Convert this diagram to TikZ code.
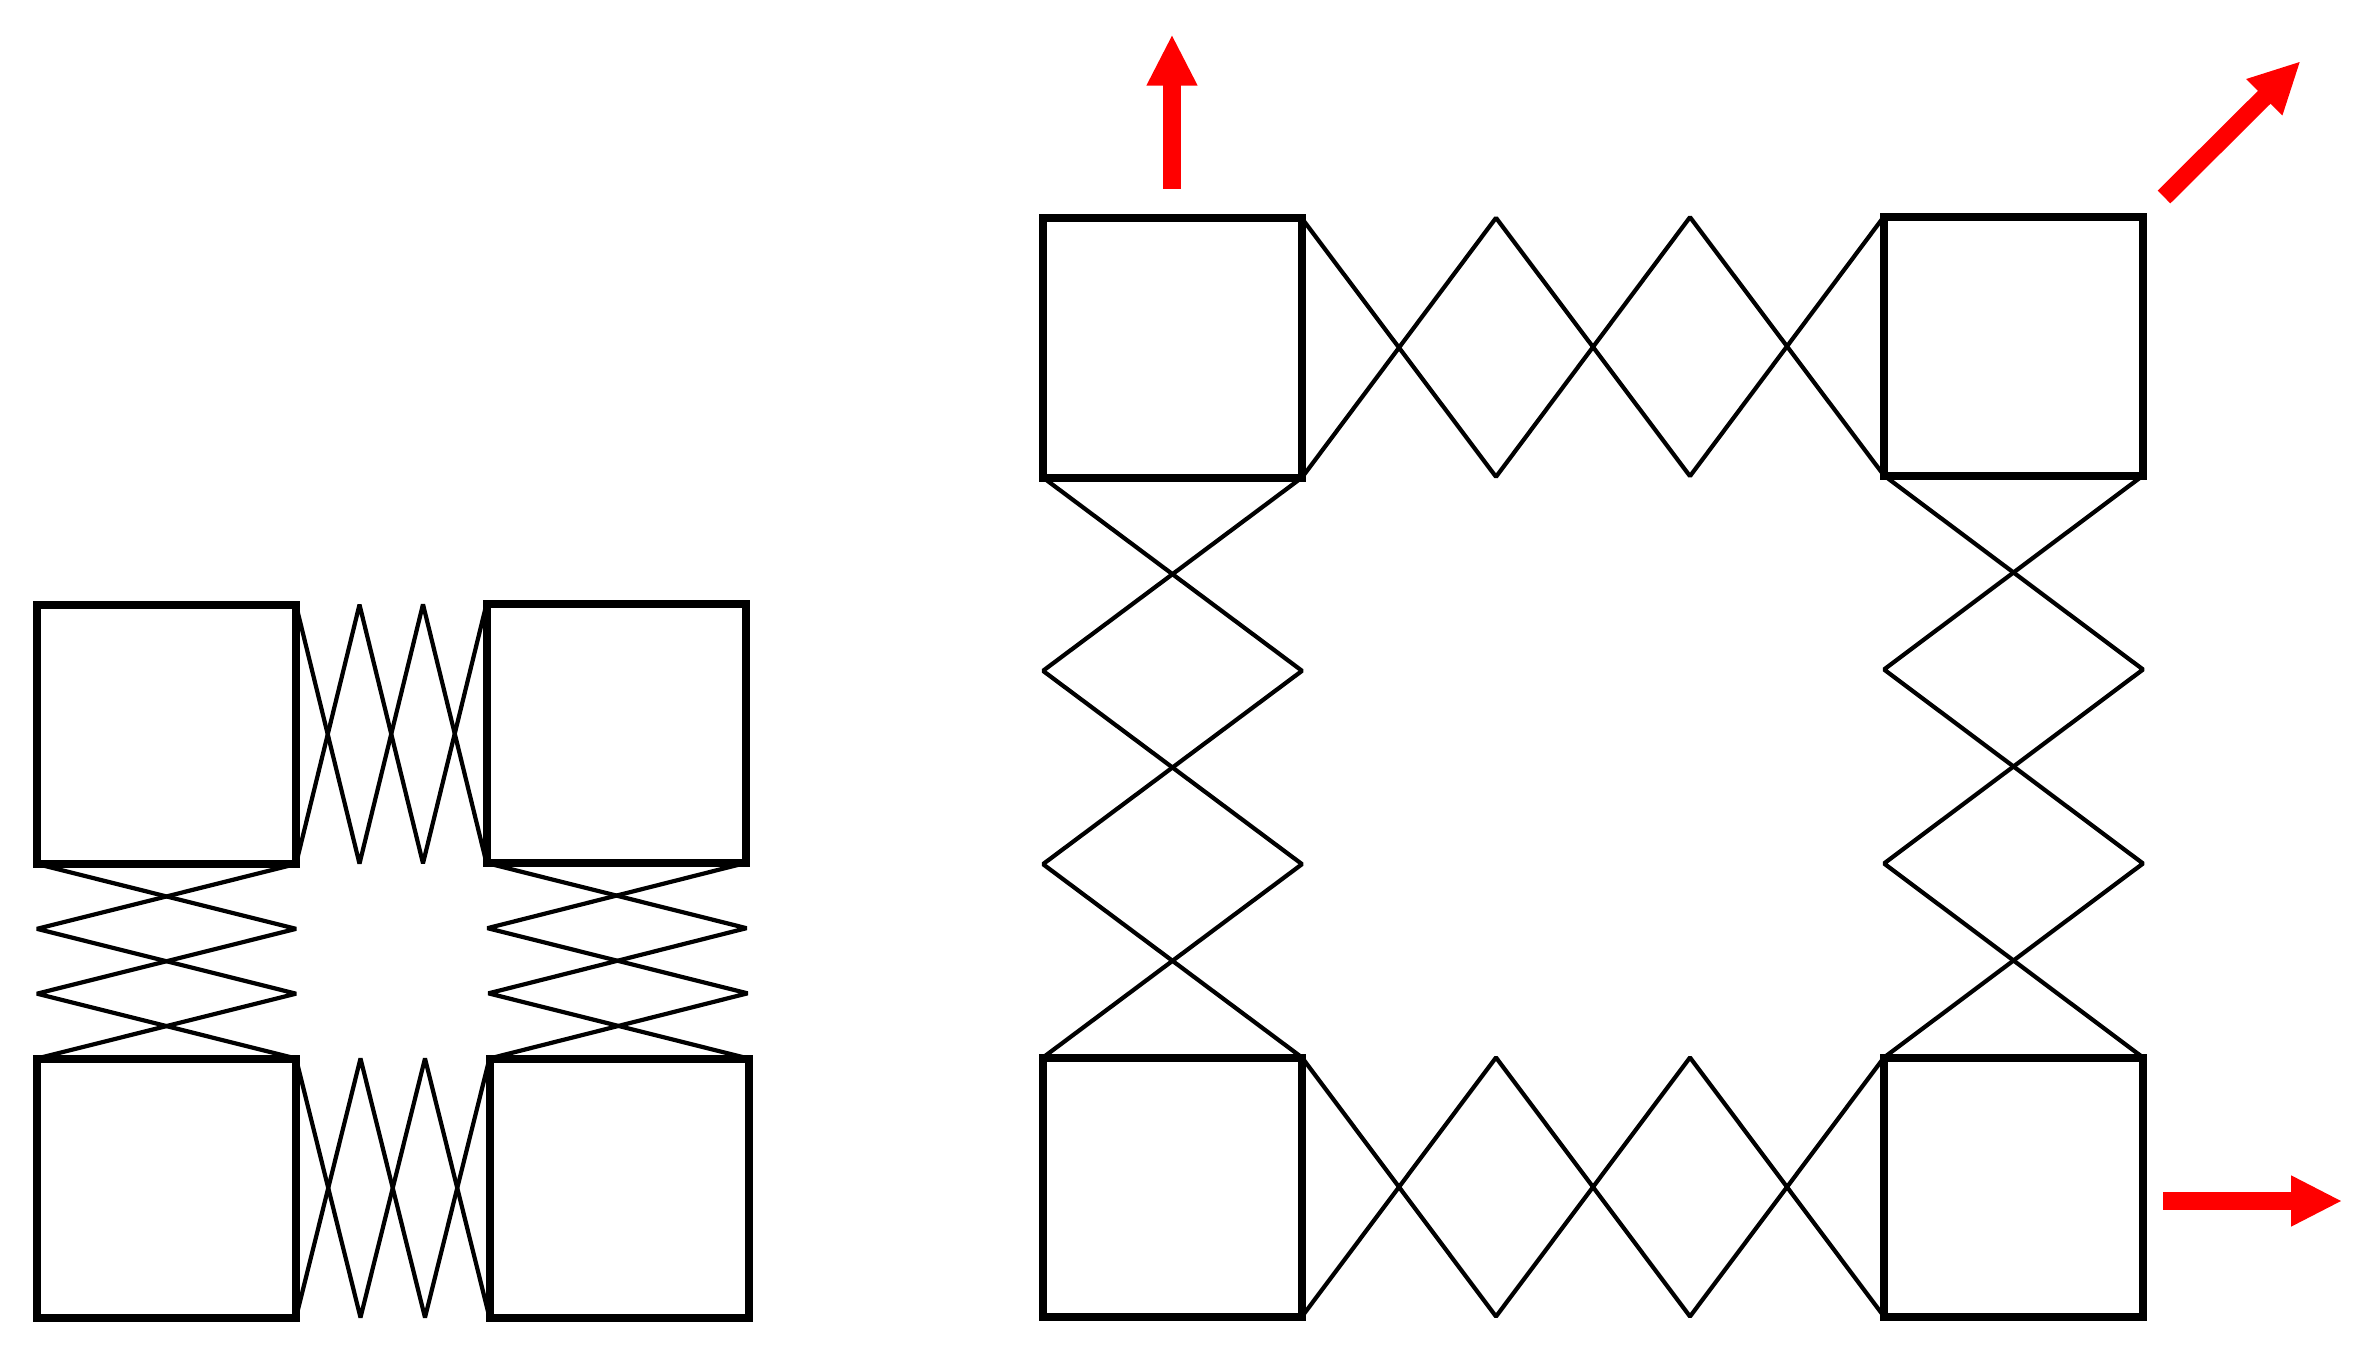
\documentclass[tikz,border=0pt]{standalone}
\usetikzlibrary{arrows.meta,calc}
\tikzset{
  block/.style={draw,line width=0.08cm,minimum size=2.59cm,inner sep=0pt,outer sep=0pt},
  spring/.style={line width=0.042cm,line join=bevel},
  force/.style={red,line width=0.18cm,-{Triangle[length=0.5cm,width=0.51cm,line width=0.5pt]}}
}
\begin{document}
\begin{tikzpicture}
\useasboundingbox (0,0) rectangle (23.57,13.64);
\node[block] (ltl) at (1.665,6.295) {};
\node[block] (ltr) at (6.16,6.305) {};
\node[block] (lbl) at (1.665,1.76) {};
\node[block] (lbr) at (6.19,1.76) {};
\node[block] (rtl) at (11.725,10.16) {};
\node[block] (rtr) at (20.135,10.18) {};
\node[block] (rbl) at (11.725,1.77) {};
\node[block] (rbr) at (20.135,1.77) {};
\foreach \first/\second in {ltl/ltr,lbl/lbr,rtl/rtr,rbl/rbr} {
  \draw[spring] (\first.north east) -- ($(\first.south east)!1/3!(\second.south west)$) -- ($(\first.north east)!2/3!(\second.north west)$) -- (\second.south west);
  \draw[spring] (\first.south east) -- ($(\first.north east)!1/3!(\second.north west)$) -- ($(\first.south east)!2/3!(\second.south west)$) -- (\second.north west);
}
\foreach \first/\second in {ltl/lbl,ltr/lbr,rtl/rbl,rtr/rbr} {
  \draw[spring] (\first.south west) -- ($(\first.south east)!1/3!(\second.north east)$) -- ($(\first.south west)!2/3!(\second.north west)$) -- (\second.north east);
  \draw[spring] (\first.south east) -- ($(\first.south west)!1/3!(\second.north west)$) -- ($(\first.south east)!2/3!(\second.north east)$) -- (\second.north west);
}
\coordinate (uptail) at (11.72,11.75);
\coordinate (uptip) at (11.72,13.283);
\coordinate (diagtail) at (21.64,11.67);
\coordinate (diagtip) at (22.997,13.02);
\coordinate (sidetail) at (21.633,1.63);
\coordinate (sidetip) at (23.41,1.63);
\draw[force] (uptail) -- (uptip);
\draw[force] (diagtail) -- (diagtip);
\draw[force] (sidetail) -- (sidetip);
\end{tikzpicture}
\end{document}
